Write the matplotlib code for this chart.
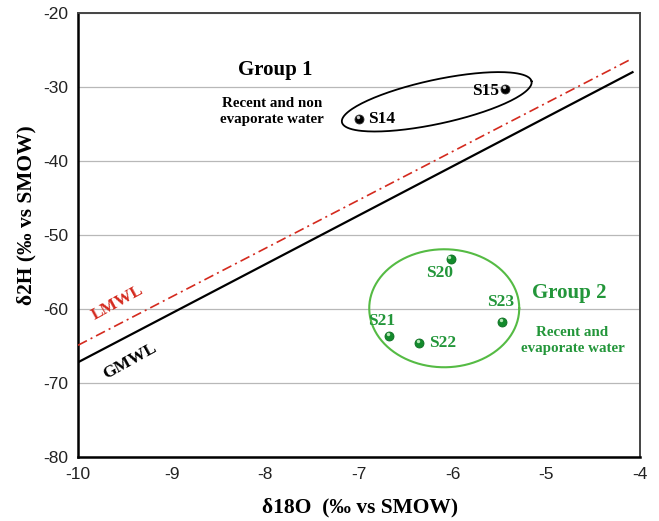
import numpy as np
import matplotlib
matplotlib.use("Agg")
import matplotlib.pyplot as plt

plt.rcParams["axes.unicode_minus"] = False

# sample isotope values (d18O, d2H)
group1_names = ["S14", "S15"]
group1_x = [-7.0, -5.44]
group1_y = [-34.3, -30.3]

group2_names = ["S20", "S21", "S22", "S23"]
group2_x = [-6.02, -6.68, -6.36, -5.47]
group2_y = [-53.2, -63.6, -64.6, -61.8]

# meteoric water lines, end points
gmwl_x = [-10.0, -4.08]
gmwl_y = [-67.2, -28.0]
lmwl_x = [-10.0, -4.09]
lmwl_y = [-64.9, -26.2]

yticks = [-20, -30, -40, -50, -60, -70, -80]
xticks = [-10, -9, -8, -7, -6, -5, -4]

SERIF = "Liberation Serif"
SANS = "Liberation Sans"
GREEN = "#23963a"
GREEN_LINE = "#55bb44"
RED = "#d42a1e"

fig = plt.figure(figsize=(6.59, 5.21), dpi=100)
ax = fig.add_axes([78 / 659, 1 - 457 / 521, (640 - 78) / 659, (457 - 13) / 521])

ax.set_xlim(-10, -4)
ax.set_ylim(-80, -20)
ax.set_xticks(xticks)
ax.set_yticks(yticks)
ax.tick_params(length=0, labelsize=12.5, pad=7)
for lab in ax.get_xticklabels() + ax.get_yticklabels():
    lab.set_fontfamily(SANS)
    lab.set_color("#222222")
ax.grid(axis="y", color="#b8b8b8", lw=0.9)
ax.set_axisbelow(True)
for side in ["left", "bottom"]:
    ax.spines[side].set_linewidth(1.8)
    ax.spines[side].set_color("black")
for side in ["top", "right"]:
    ax.spines[side].set_linewidth(1.4)
    ax.spines[side].set_color("#444444")

ax.plot(gmwl_x, gmwl_y, color="black", lw=1.6, zorder=3)
ax.plot(lmwl_x, lmwl_y, color=RED, lw=1.2, ls=(0, (6, 2.5, 1.2, 2.5)), zorder=3)


def px_ellipse(cx, cy, a, b, ang):
    # ellipse sized in pixels, placed in data coordinates
    sx = 562 / 6.0
    sy = 444 / 60.0
    t = np.linspace(0, 2 * np.pi, 200)
    th = np.radians(ang)
    ex = a * np.cos(t) * np.cos(th) - b * np.sin(t) * np.sin(th)
    ey = a * np.cos(t) * np.sin(th) + b * np.sin(t) * np.cos(th)
    return cx + ex / sx, cy + ey / sy


ex, ey = px_ellipse(-6.17, -32.0, 97, 22, 12.2)
ax.plot(ex, ey, color="black", lw=1.3, zorder=3)
ex, ey = px_ellipse(-6.09, -59.9, 75, 59, 0)
ax.plot(ex, ey, color=GREEN_LINE, lw=1.5, zorder=3)

ax.scatter(group1_x, group1_y, s=42, color="black", edgecolor="#333333", lw=0.6, zorder=5)
ax.scatter([v - 0.015 for v in group1_x], [v + 0.25 for v in group1_y], s=6,
           color="#cccccc", lw=0, zorder=6)
ax.scatter(group2_x, group2_y, s=42, color="#138a2c", edgecolor="#0d6e22", lw=0.6, zorder=5)
ax.scatter([v - 0.015 for v in group2_x], [v + 0.25 for v in group2_y], s=6,
           color="#b8e8b8", lw=0, zorder=6)

lab1 = {"S14": (0.1, 0, "left", "center"), "S15": (-0.06, -0.3, "right", "center")}
for n, x, y in zip(group1_names, group1_x, group1_y):
    dx, dy, ha, va = lab1[n]
    ax.text(x + dx, y + dy, n, fontsize=12.5, fontweight="bold", family=SERIF,
            ha=ha, va=va, zorder=6)

lab2 = {"S20": (-0.12, -1.9), "S21": (-0.08, 2.0), "S22": (0.25, 0.0), "S23": (-0.02, 2.75)}
for n, x, y in zip(group2_names, group2_x, group2_y):
    dx, dy = lab2[n]
    ax.text(x + dx, y + dy, n, fontsize=12.5, fontweight="bold", family=SERIF,
            color=GREEN, ha="center", va="center", zorder=6)

ax.text(-7.89, -27.7, "Group 1", fontsize=15, fontweight="bold", family=SERIF,
        ha="center", va="center")
ax.text(-7.93, -33.3, "Recent and non\nevaporate water", fontsize=10.8, fontweight="bold",
        family=SERIF, ha="center", va="center", linespacing=1.3)
ax.text(-4.75, -57.8, "Group 2", fontsize=15, fontweight="bold", family=SERIF,
        color=GREEN, ha="center", va="center")
ax.text(-4.72, -64.3, "Recent and\nevaporate water", fontsize=10.8, fontweight="bold",
        family=SERIF, color=GREEN, ha="center", va="center", linespacing=1.3)

ax.text(-9.58, -59.2, "LMWL", fontsize=12.5, fontweight="bold", family=SERIF,
        color=RED, rotation=29, ha="center", va="center")
ax.text(-9.45, -67.0, "GMWL", fontsize=12.5, fontweight="bold", family=SERIF,
        rotation=29, ha="center", va="center")

fig.text(360 / 659, 1 - 507 / 521, "δ18O  (‰ vs SMOW)", fontsize=15.5, fontweight="bold",
         family=SERIF, ha="center", va="center")
fig.text(26 / 659, 1 - 215 / 521, "δ2H (‰ vs SMOW)", fontsize=15.5, fontweight="bold",
         family=SERIF, ha="center", va="center", rotation=90)

fig.savefig("out.png", dpi=100)
